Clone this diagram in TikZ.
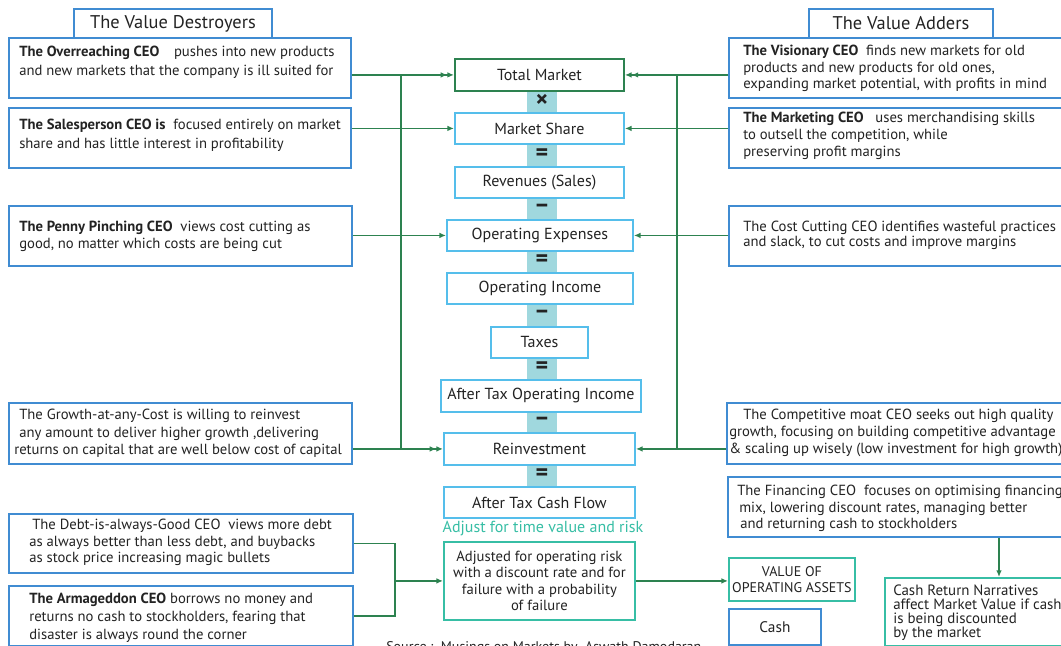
\documentclass[tikz,border=0pt]{standalone}
\usepackage{fontspec}
\setmainfont{PT Sans}
\usetikzlibrary{arrows.meta,calc}

\definecolor{ceoblue}{RGB}{64,140,210}
\definecolor{stepcyan}{RGB}{85,190,235}
\definecolor{linkgreen}{RGB}{45,130,80}
\definecolor{tealc}{RGB}{55,190,165}
\definecolor{stripc}{RGB}{160,216,222}
\definecolor{ink}{RGB}{35,35,35}

\tikzset{
  sz/.style 2 args={minimum width=#1*0.75pt, minimum height=#2*0.75pt},
  frame/.style={draw=ceoblue, line width=1.4pt, fill=white, inner sep=0pt, anchor=north west},
  flowbox/.style={draw=stepcyan, line width=1.4pt, fill=white, inner sep=0pt, anchor=north west,
    text=ink, font=\fontsize{12}{14}\selectfont},
  headbox/.style={frame, text=ink, font=\fontsize{13.8}{15}\selectfont},
  desc/.style={anchor=west, align=left, inner sep=0pt, text=ink, font=\fontsize{11}{12.5}\selectfont},
  opsym/.style={inner sep=0pt, text=ink, font=\bfseries\fontsize{18}{18}\selectfont},
  conn/.style={draw=linkgreen, line width=1.3pt},
}

\begin{document}
\begin{tikzpicture}[x=0.75pt, y=-0.75pt, >={Latex[length=5pt,width=4.2pt]}]
\useasboundingbox (0,0) rectangle (1061,646);
\fill[white] (0,0) rectangle (1061,646);
\clip (0,0) rectangle (1061,646);

% ---------- central chain ----------
\fill[stripc] (527,88) rectangle (557,488);

\node[flowbox, draw=linkgreen, sz={169}{32}] (tm) at (454,58) {Total Market};
\node[flowbox, sz={169}{31}] (ms) at (454,112) {Market Share};
\node[flowbox, sz={169}{31}] (rev) at (454,166) {Revenues (Sales)};
\node[flowbox, sz={186}{31}] (opex) at (446,219) {Operating Expenses};
\node[flowbox, sz={186}{31}] (opinc) at (446,272) {Operating Income};
\node[flowbox, sz={97}{31}] (tax) at (490,326) {Taxes};
\node[flowbox, sz={200}{32}] (atoi) at (440,379) {After Tax Operating Income};
\node[flowbox, sz={191}{32}] (reinv) at (443,432) {Reinvestment};
\node[flowbox, sz={191}{31}] (atcf) at (443,486) {After Tax Cash Flow};

\node[opsym] (op1) at (542,101) {×};
\node[opsym] (op2) at (542,154.5) {=};
\node[opsym] (op3) at (542,208) {–};
\node[opsym] (op4) at (542,261) {=};
\node[opsym] (op5) at (542,314.5) {–};
\node[opsym] (op6) at (542,368) {=};
\node[opsym] (op7) at (542,421.5) {–};
\node[opsym] (op8) at (542,475) {=};

\node[text=tealc, inner sep=0pt, font=\fontsize{12}{13}\selectfont] (adjlbl) at (543,529)
  {Adjust for time value and risk};
\node[flowbox, draw=tealc, sz={191}{78}, align=center, font=\fontsize{11}{12.2}\selectfont] (adj) at (443,541)
  {Adjusted for operating risk\\with a discount rate and for\\failure with a probability\\of failure};

% ---------- value destroyers ----------
\node[headbox, sz={198}{29}] (desthead) at (73,8) {The Value Destroyers};
\node[frame, sz={342}{60}] (ovr) at (8,37) {};
\node[frame, sz={342}{60}] (sales) at (8,107) {};
\node[frame, sz={343}{60}] (penny) at (8,205) {};
\node[frame, sz={343}{61}] (growth) at (8,402) {};
\node[frame, sz={344}{59}] (debt) at (8,513) {};
\node[frame, sz={344}{60}] (arma) at (8,585) {};

\node[desc, font=\fontsize{11}{14.3}\selectfont] (ovr-t) at (19,62.5)
  {\textbf{The Overreaching CEO}\quad pushes into new products\\and new markets that the company is ill suited for};
\node[desc, font=\fontsize{11}{14.3}\selectfont] (sales-t) at (19,135.5)
  {\textbf{The Salesperson CEO is} \ focused entirely on market\\share and has little interest in profitability};
\node[desc] (penny-t) at (19,236)
  {\textbf{The Penny Pinching CEO} \ views cost cutting as\\good, no matter which costs are being cut};
\node[desc, font=\fontsize{11}{13}\selectfont] (growth-t) at (14,433.5)
  {\hspace*{3.75pt}The Growth-at-any-Cost is willing to reinvest\\\hspace*{3.75pt}any amount to deliver higher growth ,delivering\\returns on capital that are well below cost of capital};
\node[desc] (debt-t) at (29,542.5)
  {\hspace*{2.25pt}The Debt-is-always-Good CEO \ views more debt\\as always better than less debt, and buybacks\\as stock price increasing magic bullets};
\node[desc, font=\fontsize{11}{13.5}\selectfont] (arma-t) at (29,618)
  {\textbf{The Armageddon CEO} borrows no money and\\returns no cash to stockholders, fearing that\\disaster is always round the corner};

% ---------- value adders ----------
\node[headbox, sz={184}{29}] (addhead) at (808,8) {The Value Adders};
\node[frame, sz={340}{60}] (vis) at (728,37) {};
\node[frame, sz={340}{60}] (mkt) at (728,107) {};
\node[frame, sz={340}{60}] (cut) at (728,205) {};
\node[frame, sz={342}{61}] (moat) at (726,402) {};
\node[frame, sz={341}{60}] (fin) at (727,476) {};
\node[flowbox, draw=tealc, sz={126}{43}, align=center, font=\fontsize{10.5}{12}\selectfont] (voa) at (728,557)
  {VALUE OF\\OPERATING ASSETS};
\node[frame, sz={92}{36}, text=ink, font=\fontsize{11.5}{13}\selectfont] (cash) at (728,608) {Cash};
\node[frame, draw=tealc, sz={184}{68}] (crn) at (884,577) {};

\node[desc, font=\fontsize{11}{12.4}\selectfont] (vis-t) at (743,68.5)
  {\textbf{The Visionary CEO} \ finds new markets for old\\products and new products for old ones,\\expanding market potential, with profits in mind};
\node[desc, font=\fontsize{11}{12.6}\selectfont] (mkt-t) at (743,136)
  {\textbf{The Marketing CEO} \ \ uses merchandising skills\\to outsell the competition, while\\preserving profit margins};
\node[desc, font=\fontsize{11}{11.5}\selectfont] (cut-t) at (743,235.5)
  {The Cost Cutting CEO identifies wasteful practices\\and slack, to cut costs and improve margins};
\node[desc, font=\fontsize{11}{12.7}\selectfont] (moat-t) at (729,433)
  {\hspace*{10.5pt}The Competitive moat CEO seeks out high quality\\growth, focusing on building competitive advantage\\\& scaling up wisely (low investment for high growth)};
\node[desc, font=\fontsize{11}{12.4}\selectfont] (fin-t) at (737,508.5)
  {The Financing CEO \ focuses on optimising financing\\\hspace*{1.5pt}mix, lowering discount rates, managing better\\\hspace*{2.25pt}and returning cash to stockholders};
\node[desc, font=\fontsize{11.2}{10.5}\selectfont] (crn-t) at (893,612.5)
  {Cash Return Narratives\\affect Market Value if cash\\is being discounted\\by the market};

% ---------- connectors ----------
\coordinate (lbus) at (401,0);
\coordinate (rbus) at (677,0);
\coordinate (brk) at (395,0);
\coordinate (finx) at (999,0);

\draw[conn] (lbus |- tm.west) -- (lbus |- reinv.west);
\draw[conn, ->>] (ovr.east |- tm.west) -- (tm.west);
\draw[conn, ->] (sales.east |- ms.west) -- (ms.west);
\draw[conn, ->] (penny.east |- opex.west) -- (opex.west);
\draw[conn, ->>] (growth.east |- reinv.west) -- (reinv.west);

\draw[conn] (rbus |- tm.east) -- (rbus |- reinv.east);
\draw[conn, ->>] (vis.west |- tm.east) -- (tm.east);
\draw[conn, ->] (mkt.west |- ms.east) -- (ms.east);
\draw[conn, ->] (cut.west |- opex.east) -- (opex.east);
\draw[conn, ->] (moat.west |- reinv.east) -- (reinv.east);

\draw[conn] (debt.east) -- (debt.east -| brk) -- (arma.east -| brk) -- (arma.east);
\draw[conn, ->] (adj.west -| brk) -- (adj.west);
\draw[conn, ->] (adj.east) -- (adj.east -| voa.west);
\draw[conn, ->] (fin.south -| finx) -- (crn.north -| finx);

% ---------- source line ----------
\node[anchor=base west, inner sep=0pt, text=ink, font=\fontsize{10.5}{12}\selectfont] (src) at (386,651)
  {Source :\ \ Musings on Markets by\ \ Aswath Damodaran};
\end{tikzpicture}
\end{document}
